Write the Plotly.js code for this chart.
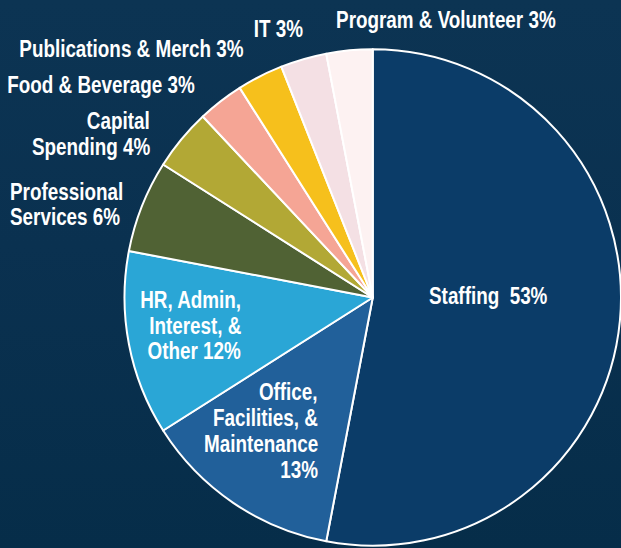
<!DOCTYPE html>
<html>
<head>
<meta charset="utf-8">
<script src="https://cdn.plot.ly/plotly-3.0.1.min.js"></script>
<style>
  html, body { margin: 0; padding: 0; }
  body { width: 621px; height: 548px; overflow: hidden;
         background: linear-gradient(180deg, #0c3453 0%, #0a3150 45%, #062d49 100%); }
  #chart { width: 621px; height: 548px; }
</style>
</head>
<body>
<div id="chart"></div>
<script>
const categories = ["Staffing", "Office, Facilities, & Maintenance", "HR, Admin, Interest, & Other",
  "Professional Services", "Capital Spending", "Food & Beverage", "Publications & Merch",
  "IT", "Program & Volunteer"];
const values = [53, 13, 12, 6, 4, 3, 3, 3, 3];
const colors = ["#0b3c68", "#21609a", "#2aa6d6", "#506234", "#b2a835", "#f5a595",
  "#f6c01c", "#f4e0e4", "#fdf2f2"];

// label lines (text only); positions live in the layout below
const labelLines = [
  ["Staffing  53%"],
  ["Office,", "Facilities, &", "Maintenance", "13%"],
  ["HR, Admin,", "Interest, &", "Other 12%"],
  ["Professional", "Services 6%"],
  ["Capital", "Spending 4%"],
  ["Food & Beverage 3%"],
  ["Publications & Merch 3%"],
  ["IT 3%"],
  ["Program & Volunteer 3%"]
];

const W = 621, H = 548;
// [x px, y px (cap centre), anchor, line spacing]
const labelPos = [
  [427, 295, "left", 26],
  [320, 391, "right", 26],
  [243, 299, "right", 25.5],
  [8, 190.5, "left", 25],
  [152, 120, "right", 25.5],
  [197, 84, "right", 0],
  [246, 48, "right", 0],
  [305, 28, "right", 0],
  [334, 19, "left", 0]
];

const FONT = '"Liberation Sans", Arial, sans-serif';
const SQUEEZE = 0.82;
const annotations = [];
labelLines.forEach((lines, i) => {
  const [x, y, anchor, sp] = labelPos[i];
  lines.forEach((ln, j) => {
    annotations.push({
      xref: "paper", yref: "paper",
      x: x / W, y: 1 - (y + j * sp + 1) / H,
      xanchor: anchor, yanchor: "middle",
      text: "<b>" + ln + "</b>", showarrow: false,
      font: { family: FONT, size: 23, color: "#ffffff" }
    });
  });
});

const cx = 373, cy = 297.5, r = 248.5;
const data = [{
  type: "pie",
  labels: categories,
  values: values,
  sort: false,
  direction: "clockwise",
  rotation: 0,
  textinfo: "none",
  hoverinfo: "label+percent",
  marker: { colors: colors, line: { color: "#ffffff", width: 2 } },
  domain: { x: [(cx - r) / W, Math.min(1, (cx + r) / W)], y: [(H - cy - r) / H, (H - cy + r) / H] },
  showlegend: false
}];

const layout = {
  width: W, height: H,
  margin: { l: 0, r: 0, t: 0, b: 0 },
  paper_bgcolor: "rgba(0,0,0,0)",
  plot_bgcolor: "rgba(0,0,0,0)",
  annotations: annotations,
  showlegend: false
};

Plotly.newPlot("chart", data, layout, { displayModeBar: false, staticPlot: true }).then(gd => {
  // condense the label glyphs horizontally (condensed bold look), keeping each anchor edge fixed
  const nodes = gd.querySelectorAll(".annotation-text");
  nodes.forEach((t, k) => {
    const a = annotations[k];
    if (!a) return;
    const bb = t.getBBox();
    const ax = a.xanchor === "right" ? bb.x + bb.width : (a.xanchor === "left" ? bb.x : bb.x + bb.width / 2);
    t.setAttribute("transform", `translate(${ax},0) scale(${SQUEEZE},1) translate(${-ax},0)`);
  });
});
</script>
</body>
</html>
